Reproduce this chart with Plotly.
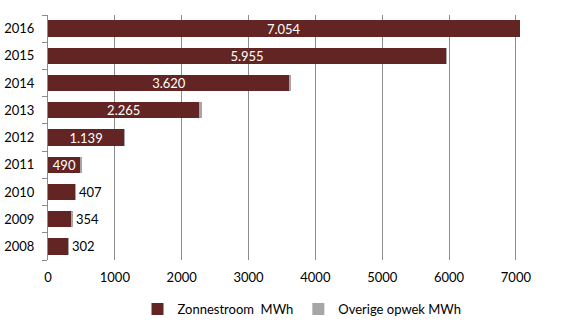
import plotly.graph_objects as go

years = ["2008", "2009", "2010", "2011", "2012", "2013", "2014", "2015", "2016"]
zonnestroom = [302, 354, 407, 490, 1139, 2265, 3620, 5955, 7054]
overige = [8, 8, 8, 8, 12, 35, 15, 10, 0]
x_ticks = [0, 1000, 2000, 3000, 4000, 5000, 6000, 7000]

def nl(v):
    return f"{v:,}".replace(",", ".")

inside_min = 450
inside_text = [nl(v) if v >= inside_min else "" for v in zonnestroom]
outside_text = [nl(v) if v < inside_min else "" for v in zonnestroom]

FONT = "Lato, 'Open Sans', sans-serif"
RED = "#632523"
GREY = "#a6a6a6"
FS = 13

fig = go.Figure()
fig.add_trace(go.Bar(
    y=years, x=zonnestroom, orientation="h", name="Zonnestroom\u00a0\u00a0MWh",
    marker=dict(color=RED, line=dict(width=0)),
    text=inside_text, textposition="inside", insidetextanchor="middle",
    textfont=dict(color="white", size=FS, family=FONT),
    constraintext="none", width=0.6,
))
fig.add_trace(go.Bar(
    y=years, x=overige, orientation="h", name="Overige opwek MWh",
    marker=dict(color=GREY, line=dict(width=0)),
    text=outside_text, textposition="outside",
    textfont=dict(color="black", size=FS, family=FONT),
    constraintext="none", cliponaxis=False, width=0.6,
))

fig.update_layout(
    barmode="stack",
    width=578, height=326,
    margin=dict(l=48, r=22, t=15, b=66, autoexpand=False),
    paper_bgcolor="white", plot_bgcolor="white",
    font=dict(family=FONT, size=FS, color="black"),
    showlegend=True,
    legend=dict(orientation="h", x=0.5, xanchor="center",
                y=-0.2, yanchor="middle", font=dict(size=FS, family=FONT),
                traceorder="normal", itemwidth=30),
)
fig.update_xaxes(
    range=[0, 7600], tickvals=x_ticks, ticktext=[str(t) for t in x_ticks],
    showgrid=True, gridcolor="#8c8c8c", gridwidth=1, zeroline=False,
    showline=False, ticks="", tickfont=dict(size=FS, family=FONT),
    tickangle=0, automargin=False, ticklabelstandoff=8,
)
fig.update_yaxes(
    categoryorder="array", categoryarray=years,
    showline=True, linecolor="#8c8c8c", linewidth=1,
    ticks="outside", ticklen=5, tickcolor="#8c8c8c", tickson="boundaries",
    showgrid=False, tickfont=dict(size=FS, family=FONT), ticklabelstandoff=10,
    automargin=False,
)

fig.write_html("out.html")
